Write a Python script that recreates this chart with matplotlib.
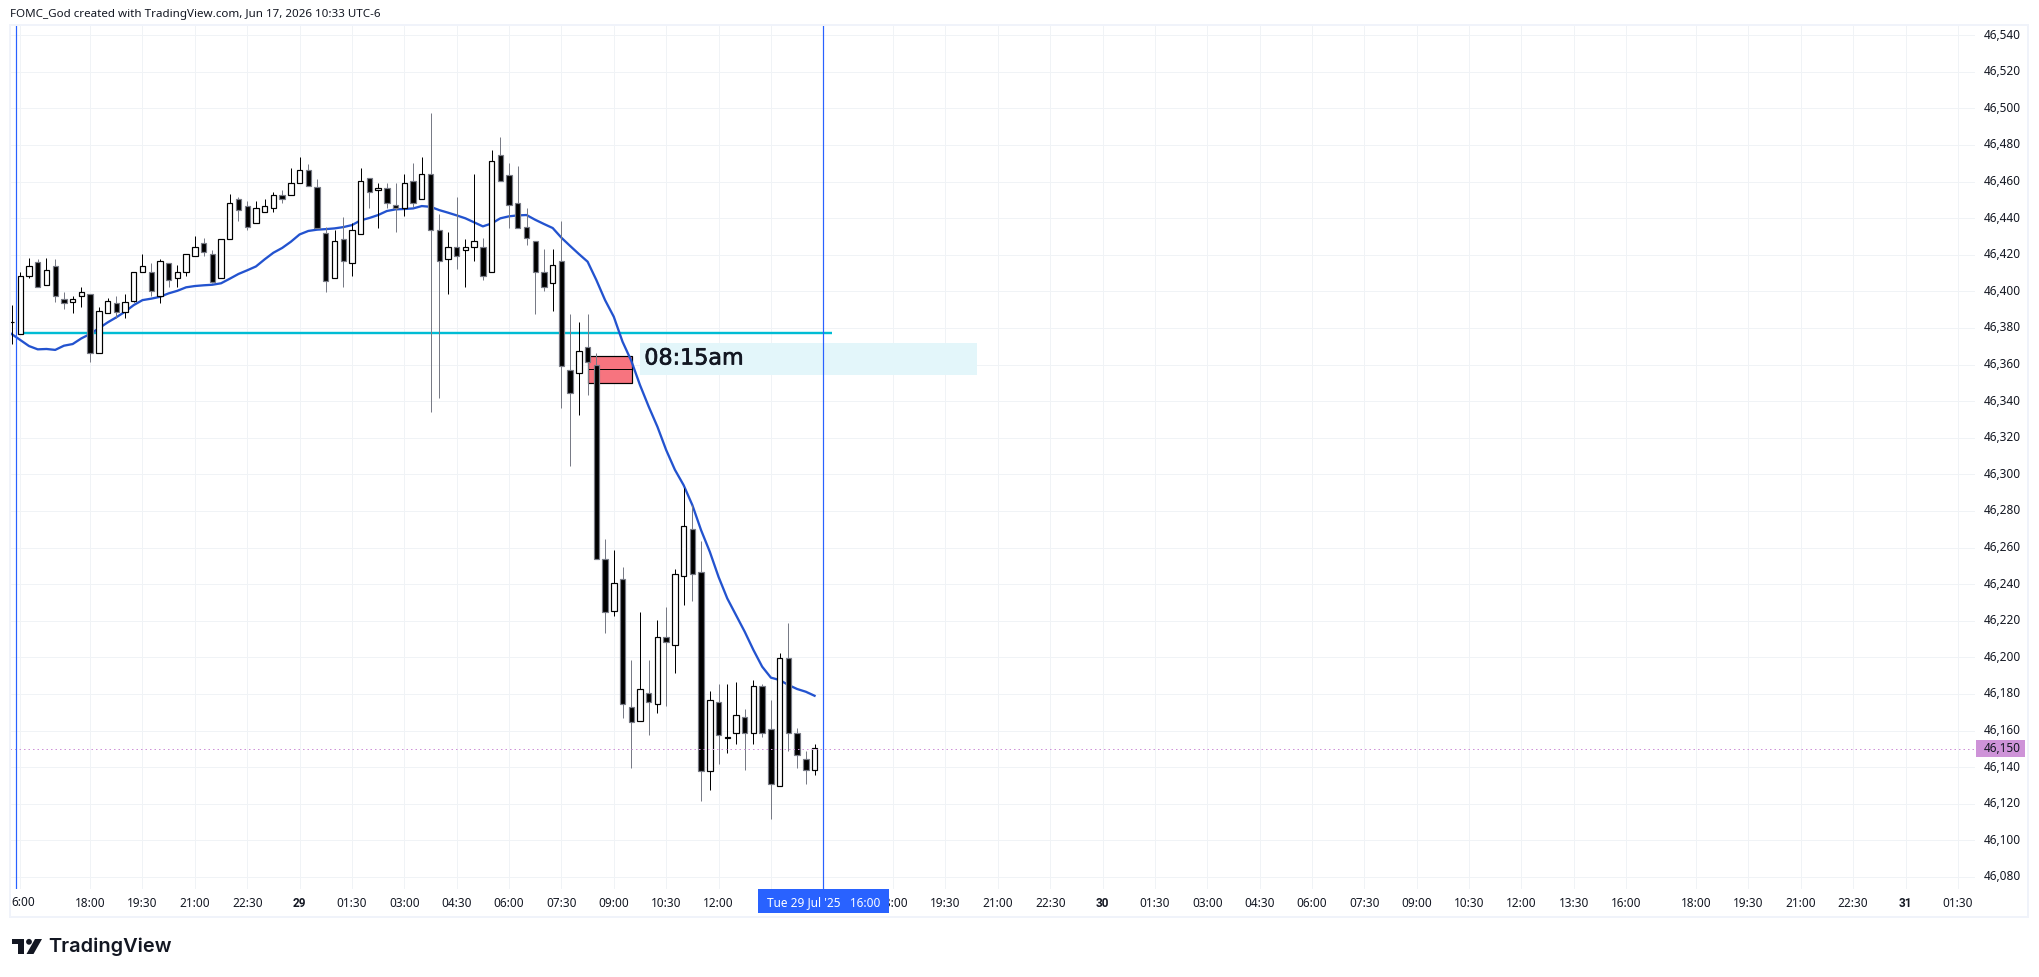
import matplotlib
matplotlib.use("Agg")
import matplotlib.pyplot as plt
import matplotlib.patheffects as pe
from matplotlib.patches import Rectangle, Circle, Polygon
from matplotlib.transforms import IdentityTransform

# 15 minute bars, index -1 is the 15:45 bar
first_bar = -1
opens = [46383, 46376.5, 46408.2, 46416.2, 46403.3, 46414, 46396, 46394, 46397.2, 46398.3,
         46366.1, 46388, 46393.4, 46388.9, 46394.9, 46410.4, 46410.4, 46397.2, 46415.3, 46407.1,
         46410.4, 46419.1, 46426.2, 46420.2, 46407.1, 46428.4, 46450.3, 46446.8, 46437.1, 46443.2,
         46445.3, 46452.8, 46452.4, 46459, 46466.1, 46457.2, 46432, 46407.1, 46428.8, 46415.3,
         46431.1, 46462.1, 46455.2, 46456.3, 46447, 46445.3, 46460.1, 46450.3, 46463.9, 46433.3,
         46417.5, 46424, 46422.4, 46424, 46424, 46410.4, 46474.3, 46463.4, 46448.1, 46435,
         46427.3, 46410.4, 46404.4, 46416.4, 46357.2, 46355.2, 46369.4, 46359.9, 46253.5, 46225.1,
         46242.6, 46173, 46165.4, 46180.3, 46174.3, 46211.2, 46206.5, 46244.2, 46270.4, 46246.4,
         46137.7, 46175.4, 46156.1, 46158.4, 46167.2, 46158.4, 46184.1, 46160.6, 46129.5, 46199.4,
         46158.4, 46144.2, 46138.2]
highs = [46392.5, 46410.4, 46418, 46417.5, 46418, 46417.5, 46399.6, 46397.4, 46402.4, 46398.3,
         46391.4, 46396.3, 46397.4, 46398.5, 46410.4, 46420.4, 46415.5, 46417.7, 46415.3, 46414.4,
         46420.2, 46430.2, 46429.1, 46422.6, 46428.4, 46453.2, 46451.5, 46449.2, 46449.2, 46450.4,
         46454.1, 46455.4, 46467.4, 46473.4, 46469.6, 46461.4, 46435, 46433.5, 46440.6, 46437.1,
         46467.4, 46462.1, 46459, 46459, 46459, 46464.1, 46469.9, 46473.4, 46497.4, 46442.2,
         46432.2, 46451.5, 46428.6, 46464.1, 46429.1, 46477.2, 46484.3, 46469.9, 46468.5, 46445.5,
         46427.3, 46423.1, 46423.1, 46438.4, 46387.4, 46383, 46387.4, 46366.1, 46264.6, 46258.6,
         46249.3, 46198.5, 46224.7, 46198.5, 46220.2, 46227.3, 46248, 46292.7, 46283, 46263.5,
         46181.6, 46185.4, 46185.4, 46186.5, 46171.7, 46187.6, 46185.4, 46176.7, 46202.2, 46218.7,
         46161.4, 46148.8, 46152.4]
lows = [46371.2, 46376.5, 46407.5, 46402.4, 46403.3, 46394.3, 46390.5, 46388.3, 46391.6, 46361.5,
        46366.1, 46388, 46385.6, 46385.6, 46394.3, 46410.4, 46397.4, 46393.8, 46402.5, 46402.4,
        46408.5, 46419.1, 46419.5, 46404.4, 46407.1, 46428.4, 46438.6, 46433.5, 46437.1, 46443.2,
        46443.5, 46448.4, 46452.4, 46459, 46457.4, 46434.4, 46399.8, 46407.1, 46402.5, 46408.5,
        46431.1, 46445.7, 46434.8, 46445.3, 46432.6, 46441.1, 46446.2, 46450.3, 46334, 46341.9,
        46398.7, 46412.4, 46402.5, 46416.7, 46406.2, 46410.4, 46460.1, 46434.6, 46434.4, 46425.3,
        46387.8, 46400.2, 46389.4, 46336.4, 46304.7, 46332.6, 46343.5, 46253.5, 46213.4, 46222.7,
        46166.8, 46139.5, 46165.4, 46157.7, 46169.8, 46173.4, 46191.6, 46228.7, 46230.9, 46121.6,
        46127.5, 46141.7, 46147.7, 46152.6, 46138.6, 46152.6, 46156.4, 46111.8, 46129.5, 46148.8,
        46139.5, 46130.8, 46135.9]
closes = [46383.4, 46408.2, 46414, 46402.4, 46411.8, 46397.2, 46393.4, 46396, 46399.8, 46366.1,
          46389.1, 46394.9, 46388.9, 46394, 46410.4, 46414, 46400, 46416.4, 46406, 46410.4,
          46420.2, 46424, 46421.3, 46405.3, 46428.4, 46448.1, 46444.2, 46435, 46445.3, 46446.8,
          46452.4, 46450.4, 46459, 46466.1, 46457.4, 46434.4, 46405.4, 46427.3, 46416.4, 46433.3,
          46460.1, 46454.1, 46456.3, 46448.1, 46445.3, 46459, 46448.1, 46463.9, 46433.3, 46416.4,
          46424, 46419.1, 46424, 46427.3, 46408.2, 46471, 46460.1, 46447, 46434.4, 46428.9,
          46410.4, 46402.2, 46414.2, 46359.2, 46344.2, 46367.2, 46361.2, 46253.5, 46224.5, 46240.4,
          46174.3, 46164.5, 46182.5, 46175.4, 46211.2, 46208.2, 46245.3, 46271.5, 46245.3, 46137.7,
          46176.5, 46157.3, 46156.5, 46168.3, 46158.4, 46184.1, 46158.4, 46130.6, 46199.4, 46158.4,
          46146.4, 46138.2, 46150.2]
ema = [46376.7, 46373.4, 46370.1, 46368.3, 46368.5, 46368, 46370.3, 46371.2, 46374.3, 46376.7,
       46379.8, 46383, 46385.8, 46388.9, 46392.5, 46395.2, 46396, 46397, 46398.9, 46400.3,
       46402.2, 46402.9, 46403.3, 46403.6, 46404.4, 46406.9, 46409.5, 46411.5, 46413.6, 46417.5,
       46421.1, 46423.7, 46427.1, 46431.1, 46433, 46433.7, 46434, 46434.4, 46435.1, 46436.2,
       46438.8, 46440.1, 46441.7, 46443.9, 46444.8, 46445, 46445.3, 46446.6, 46446.2, 46444.4,
       46443, 46441.5, 46439.9, 46437.7, 46435.5, 46437.1, 46439.9, 46441, 46441.5, 46441.7,
       46439.1, 46436.8, 46434.6, 46429.3, 46424.8, 46420.4, 46416.2, 46406.2, 46395.2, 46386.1,
       46372.5, 46362.1, 46348.8, 46337, 46326, 46313.3, 46302.5, 46294.1, 46283.2, 46269.5,
       46257.7, 46244, 46232.2, 46223.1, 46214, 46204, 46194.9, 46188.9, 46187.6, 46184.9,
       46182.7, 46181.2, 46179]

price_ticks = list(range(46080, 46541, 20))
time_tick_bars = [0, 8, 14, 20, 26, 32, 38, 44, 50, 56, 62, 68, 74, 80, 86, 92,
                  100, 106, 112, 118, 124, 130, 136, 142, 148, 154, 160, 166, 172, 178, 184,
                  192, 198, 204, 210, 216, 222]
# 13:30 and 16:00 of the first day sit under the crosshair date
time_tick_labels = ["", "18:00", "19:30", "21:00", "22:30", "29", "01:30", "03:00", "04:30",
                    "06:00", "07:30", "09:00", "10:30", "12:00", "", "",
                    "18:00", "19:30", "21:00", "22:30", "30", "01:30", "03:00", "04:30",
                    "06:00", "07:30", "09:00", "10:30", "12:00", "13:30", "16:00",
                    "18:00", "19:30", "21:00", "22:30", "31", "01:30"]

level_price = 46377.2
last_price = 46150
session_lines = [-0.44, 92]
fvg_box = (65.05, 70.05, 46350.1, 46364.5, 46357.4)
label_box = (71.05, 109.6, 46354.4, 46371.6)

W, H = 2039, 977
PX = 72 / 100  # one pixel in points
TEXT = "#131722"
FONT = "Noto Sans"


def screen(x, y):
    # picture pixels, y measured from the top
    return x, H - y


def draw_candles(ax):
    bars = [first_bar + i for i in range(len(opens))]
    for x, o, h, l, c in zip(bars, opens, highs, lows, closes):
        up = c >= o
        wick = "#000000" if up else "#787b86"
        ax.vlines(x, l, h, color=wick, linewidth=PX, zorder=4)
        ax.bar(x, abs(c - o), bottom=min(o, c), width=0.62,
               color="#ffffff" if up else "#000000",
               edgecolor="#000000" if up else "#787b86",
               linewidth=1.2 * PX, zorder=5)
    ax.plot(bars, ema, color="#2353cf", linewidth=2.3 * PX, zorder=3)


def draw_overlays(ax):
    ax.hlines(level_price, 0, 93, color="#00bcd4", linewidth=2.4 * PX, zorder=1)
    ax.axhline(last_price, color="#ce93d8", linewidth=PX, linestyle=(0, (1.5, 3)), zorder=6)
    for x in session_lines:
        ax.axvline(x, color="#2962ff", linewidth=1.2 * PX, zorder=6)

    x0, x1, y0, y1 = label_box
    ax.add_patch(Rectangle((x0, y0), x1 - x0, y1 - y0, facecolor="#e3f6fa", edgecolor="none", zorder=1))
    ax.text(x0 + 0.45, (y0 + y1) / 2 + 0.3, "08:15am", fontsize=16, color=TEXT, ha="left", va="center",
            family="DejaVu Sans", zorder=7,
            path_effects=[pe.withStroke(linewidth=0.7 * PX, foreground=TEXT)])

    x0, x1, y0, y1, mid = fvg_box
    ax.add_patch(Rectangle((x0, y0), x1 - x0, y1 - y0, facecolor="#f7747f", edgecolor="#000000",
                           linewidth=1.2 * PX, zorder=2))
    ax.hlines(mid, x0, x1, color="#000000", linewidth=PX, zorder=2)


def draw_decor(fig):
    ident = IdentityTransform()

    # pane frame
    x, y = screen(10, 917)
    fig.add_artist(Rectangle((x, y), 2018, 892, transform=ident, fill=False,
                             edgecolor="#f0f3fa", linewidth=2 * PX, zorder=1))

    x, y = screen(10, 14.5)
    fig.text(x, y, "FOMC_God created with TradingView.com, Jun 17, 2026 10:33 UTC-6", transform=ident,
             fontsize=8.35, color=TEXT, family=FONT, ha="left", va="center")

    # first time label is cut by the pane edge
    x, y = screen(23.7, 902.5)
    fig.text(x, y, "6:00", transform=ident, fontsize=8.5, color=TEXT, family=FONT, ha="center", va="center")

    # crosshair date
    x, y = screen(758, 912.7)
    fig.add_artist(Rectangle((x, y), 131, 23.7, transform=ident, facecolor="#2962ff", edgecolor="none", zorder=5))
    x, y = screen(823.3, 903)
    fig.text(x, y, "Tue 29 Jul '25   16:00", transform=ident, fontsize=8.5, color="#ffffff", family=FONT,
             ha="center", va="center", zorder=6)

    # last price tag
    x, y = screen(1976, 757)
    fig.add_artist(Rectangle((x, y), 49, 17, transform=ident, facecolor="#ce93d8", edgecolor="none", zorder=5))
    x, y = screen(1984, 748)
    fig.text(x, y, f"{last_price:,}", transform=ident, fontsize=8.5, color=TEXT, family=FONT,
             ha="left", va="center", zorder=6)

    # logo
    logo = "#131722"
    t_shape = [(12, 939), (24.3, 939), (24.3, 954), (18, 954), (18, 944.3), (12, 944.3)]
    slash = [(35, 939), (42, 939), (33.5, 954), (26.5, 954)]
    for pts in (t_shape, slash):
        fig.add_artist(Polygon([screen(*p) for p in pts], closed=True, transform=ident,
                               facecolor=logo, edgecolor="none", zorder=5))
    fig.add_artist(Circle(screen(29, 941.8), 2.9, transform=ident, facecolor=logo, edgecolor="none", zorder=5))
    x, y = screen(48, 947)
    fig.text(x, y, "TradingView", transform=ident, fontsize=14.4, fontweight="semibold", color=logo,
             family="Inter", ha="left", va="center")


def main():
    fig = plt.figure(figsize=(W / 100, H / 100), dpi=100, facecolor="#ffffff")
    ax = fig.add_axes([10 / W, (H - 889) / H, 1965 / W, 863 / H])

    ax.set_xlim(-1.18, 223.96)
    ax.set_ylim(46073.4, 46545.0)
    for spine in ax.spines.values():
        spine.set_visible(False)

    ax.grid(True, color="#f0f3f6", linewidth=PX, zorder=0)
    ax.set_axisbelow(True)

    ax.yaxis.tick_right()
    ax.set_yticks(price_ticks)
    ax.set_yticklabels([f"{p:,}" for p in price_ticks], fontsize=8.5, color=TEXT, family=FONT, va="center")
    ax.set_xticks(time_tick_bars)
    ax.set_xticklabels(time_tick_labels, fontsize=8.5, color=TEXT, family=FONT)
    ax.tick_params(axis="both", length=0)
    ax.tick_params(axis="y", pad=6.5)
    ax.tick_params(axis="x", pad=5.6)
    for label in ax.get_xticklabels():
        if label.get_text() in ("29", "30", "31"):
            label.set_family("Roboto")
            label.set_fontweight("bold")

    draw_overlays(ax)
    draw_candles(ax)
    draw_decor(fig)

    fig.savefig("out.png", dpi=100)


main()
